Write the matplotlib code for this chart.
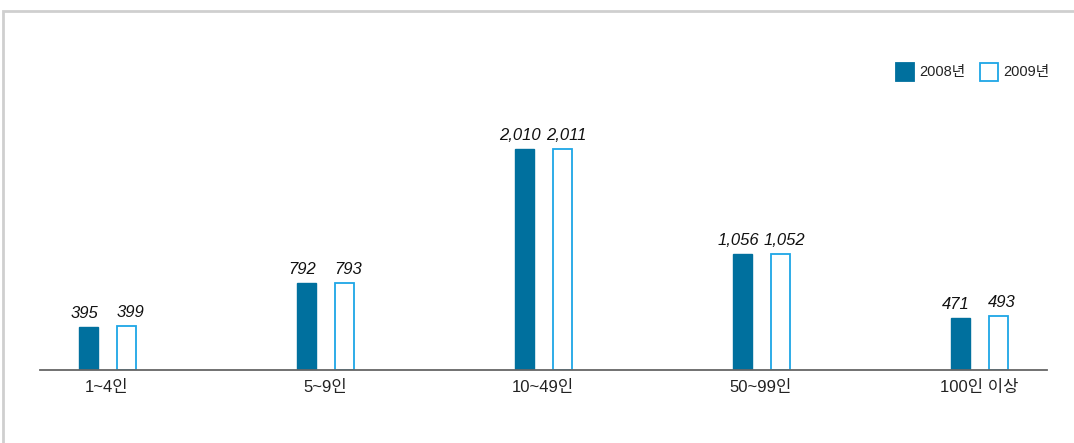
import matplotlib
matplotlib.use("Agg")
import matplotlib.pyplot as plt
from matplotlib.patches import Rectangle
import numpy as np

categories = ["1~4인", "5~9인", "10~49인", "50~99인", "100인 이상"]
series_names = ["2008년", "2009년"]
values_2008 = [395, 792, 2010, 1056, 471]
values_2009 = [399, 793, 2011, 1052, 493]

W, H = 1074, 443
fig = plt.figure(figsize=(W / 100, H / 100), dpi=100)

dark = "#00709e"
light = "#1ea6e6"

# axes geometry in pixels
ax_left, ax_right = 40, 1047
ax_bottom, ax_top = 370, 20
ax = fig.add_axes([ax_left / W, (H - ax_bottom) / H, (ax_right - ax_left) / W, (ax_bottom - ax_top) / H])

px_per_unit_x = 218.0
x0_px = 107.0
ax.set_xlim((ax_left - x0_px) / px_per_unit_x, (ax_right - x0_px) / px_per_unit_x)
px_per_val = 221.0 / 2010
ax.set_ylim(0, (ax_bottom - ax_top) / px_per_val)

x = np.arange(len(categories))
bw = 19 / px_per_unit_x
off = 19 / px_per_unit_x
shift = 4 / px_per_unit_x

ax.bar(x - off, values_2008, width=bw, color=dark, edgecolor=dark, linewidth=1)
ax.bar(x + off, values_2009, width=bw, color="white", edgecolor=light, linewidth=1.3)

lab_font = ["Liberation Sans", "DejaVu Sans"]
for xi, v in zip(x - off, values_2008):
    ax.text(xi - shift, v + 55, f"{v:,}", ha="center", va="bottom", fontsize=12,
            style="italic", family=lab_font, color="#111111")
for xi, v in zip(x + off, values_2009):
    ax.text(xi + shift, v + 55, f"{v:,}", ha="center", va="bottom", fontsize=12,
            style="italic", family=lab_font, color="#111111")

ax.set_xticks(x)
ax.set_xticklabels(categories, fontsize=12, family=["Liberation Sans", "Noto Sans CJK KR"], color="#222222")
ax.tick_params(axis="x", length=0, pad=7)
ax.set_yticks([])
for s in ["top", "right", "left"]:
    ax.spines[s].set_visible(False)
ax.spines["bottom"].set_color("#666666")
ax.spines["bottom"].set_linewidth(1.3)

# frame
fig.patches.append(Rectangle((3 / W, -0.1), 1.2, (H - 11) / H + 0.1, transform=fig.transFigure,
                             fill=False, edgecolor="#cfcfcf", linewidth=2))

# legend
leg_font = ["Liberation Sans Narrow", "Liberation Sans", "Noto Sans CJK KR"]
def legend_item(xpx, ypx, filled, label):
    sz = 18
    fig.patches.append(Rectangle((xpx / W, (H - ypx - sz) / H), sz / W, sz / H, transform=fig.transFigure,
                                 facecolor=dark if filled else "white",
                                 edgecolor=dark if filled else light, linewidth=1.3))
    fig.text((xpx + sz + 5) / W, (H - ypx - sz / 2) / H, label, fontsize=10.5, family=leg_font,
             va="center", ha="left", color="#222222")

legend_item(896, 63, True, series_names[0])
legend_item(980, 63, False, series_names[1])

fig.savefig("out.png", dpi=100)
